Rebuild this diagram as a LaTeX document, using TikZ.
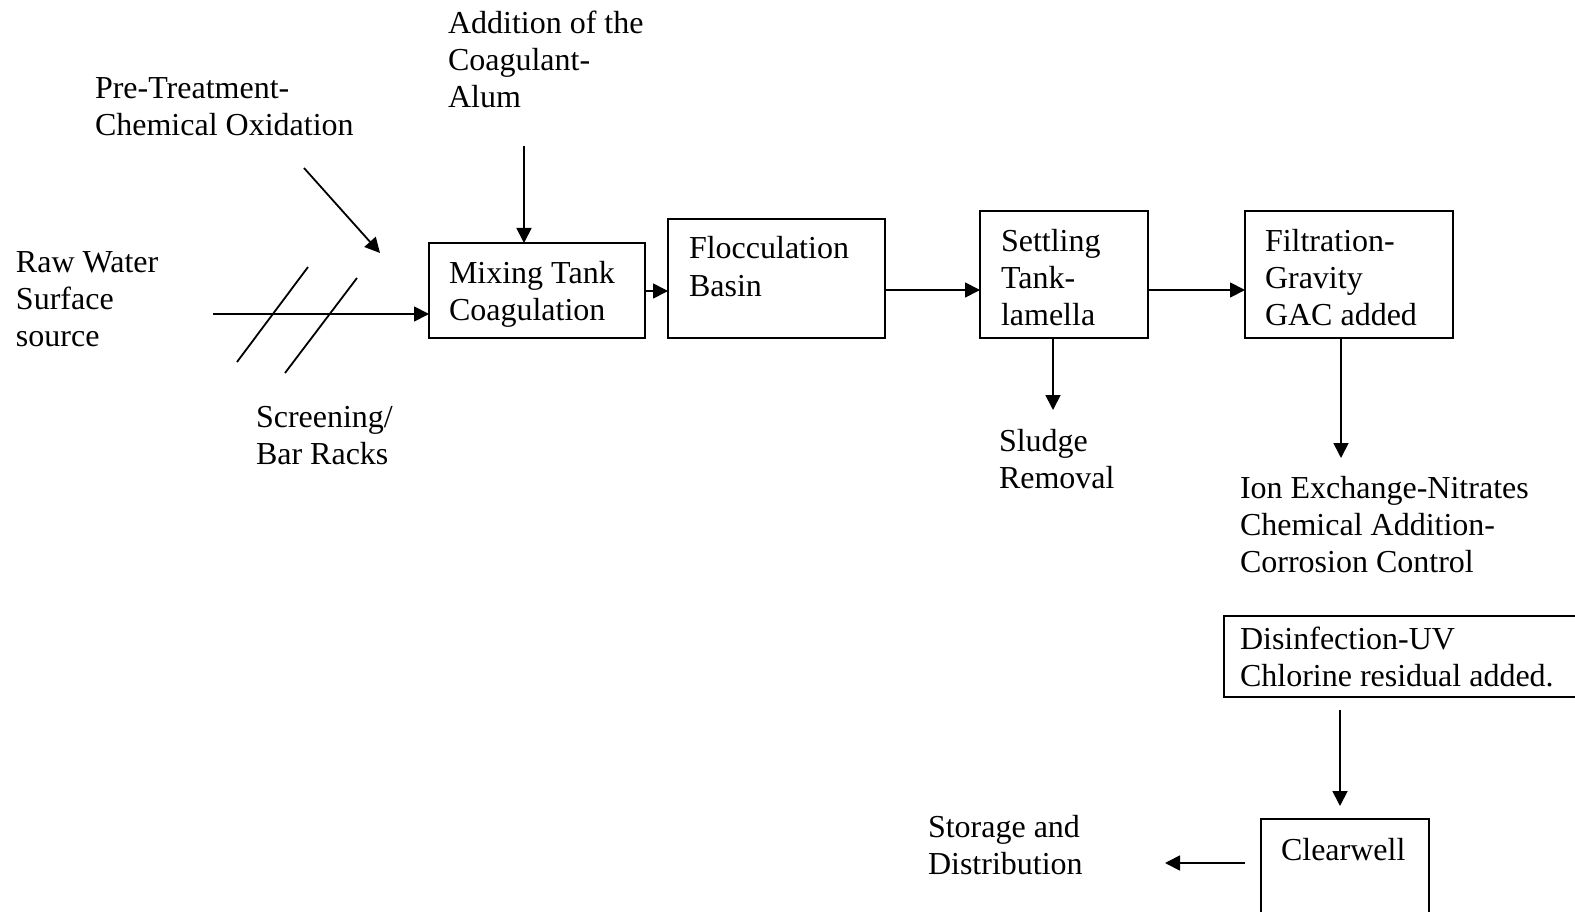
\documentclass[tikz,border=0pt]{standalone}
\usepackage{fontspec}
\setmainfont{Liberation Serif}
\usetikzlibrary{arrows.meta}
\newcommand\mystrut{\rule{0pt}{24pt}}
\tikzset{
  box/.style={draw, line width=1.8pt, inner sep=0pt, outer sep=0pt},
  lbl/.style={anchor=north west, inner sep=0pt, outer sep=0pt, align=left, font=\fontsize{32}{37}\selectfont},
  arr/.style={line width=1.8pt, -{Triangle[length=15pt,width=15pt]}},
  ln/.style={line width=1.8pt}
}
\begin{document}
\begin{tikzpicture}[x=1pt,y=-1pt]
\clip (0,0) rectangle (1575,912);
\fill[white] (0,0) rectangle (1575,912);
% boxes
\node[box, minimum width=216pt, minimum height=95pt] (mix) at (537,290.5) {};
\node[box, minimum width=217pt, minimum height=119pt] (floc) at (776.5,278.5) {};
\node[box, minimum width=168pt, minimum height=127pt] (set) at (1064,274.5) {};
\node[box, minimum width=208pt, minimum height=127pt] (filt) at (1349,274.5) {};
\node[box, minimum width=366pt, minimum height=81pt] (dis) at (1407,656.5) {};
\node[box, minimum width=168pt, minimum height=111pt] (clear) at (1345,874.5) {};
% labels
\node[lbl] (addl) at (448,10) {\mystrut Addition of the\\Coagulant-\\Alum};
\node[lbl] (prel) at (95,75) {\mystrut Pre-Treatment-\\Chemical Oxidation};
\node[lbl] (rawl) at (16,248) {\mystrut Raw Water\\Surface\\source};
\node[lbl] (scrl) at (256,403) {\mystrut Screening/\\Bar Racks};
\node[lbl] (mixl) at (449,259) {\mystrut Mixing Tank\\Coagulation};
\node[lbl] (flocl) at (689,235) {\mystrut Flocculation\\Basin};
\node[lbl] (setl) at (1001,227) {\mystrut Settling\\Tank-\\lamella};
\node[lbl] (filtl) at (1265,227) {\mystrut Filtration-\\Gravity\\GAC added};
\node[lbl] (sludl) at (999,427) {\mystrut Sludge\\Removal};
\node[lbl] (ionl) at (1240,474) {\mystrut Ion Exchange-Nitrates\\Chemical Addition-\\Corrosion Control};
\node[lbl] (disl) at (1240,625) {\mystrut Disinfection-UV\\Chlorine residual added.};
\node[lbl] (clearl) at (1281,836) {\mystrut Clearwell};
\node[lbl] (storl) at (928,813) {\mystrut Storage and\\Distribution};
% coordinates
\coordinate (raw0) at (213,314);
\coordinate (pt0) at (304,168);
\coordinate (pt1) at (380,253);
\coordinate (co0) at (524,146);
\coordinate (sl1) at (1053,410);
\coordinate (ie1) at (1341,458);
\coordinate (d0) at (1340,710);
\coordinate (d1) at (1340,806);
\coordinate (st0) at (1245,863);
\coordinate (st1) at (1165,863);
% connectors
\draw[arr] (raw0) -- (raw0 -| mix.west);
\draw[ln] (237,362) -- (308,267);
\draw[ln] (285,373) -- (357,278);
\draw[arr] (pt0) -- (pt1);
\draw[arr] (co0) -- (co0 |- mix.north);
\draw[arr] (mix.east |- 0,291) -- (floc.west |- 0,291);
\draw[arr] (floc.east |- 0,290) -- (set.west |- 0,290);
\draw[arr] (set.east |- 0,290) -- (filt.west |- 0,290);
\draw[arr] (set.south -| sl1) -- (sl1);
\draw[arr] (filt.south -| ie1) -- (ie1);
\draw[arr] (d0) -- (d1);
\draw[arr] (st0) -- (st1);
\end{tikzpicture}
\end{document}
